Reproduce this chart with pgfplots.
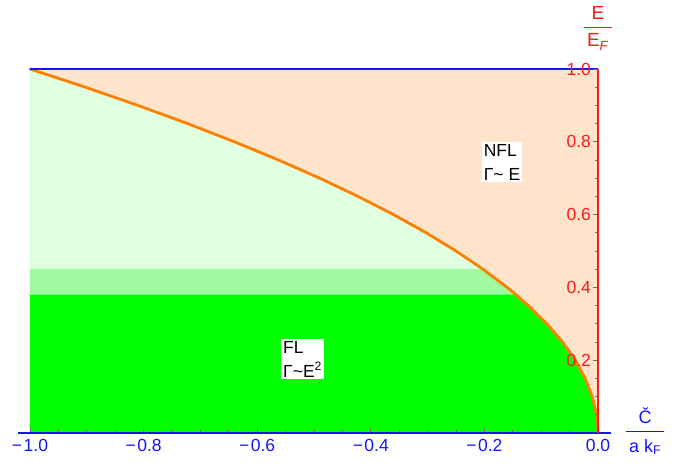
\documentclass[border=0pt]{standalone}
\usepackage{fontspec}
\setmainfont{Liberation Sans}
\usepackage{pgfplots}
\pgfplotsset{compat=1.18}
\definecolor{peach}{RGB}{255,228,204}
\definecolor{lgreen}{RGB}{224,255,224}
\definecolor{mgreen}{RGB}{160,250,160}
\definecolor{bgreen}{RGB}{0,255,0}
\definecolor{curveorange}{RGB}{255,128,0}
\definecolor{axred}{RGB}{255,25,25}
\definecolor{axblue}{RGB}{20,20,255}
\definecolor{tickgray}{RGB}{110,110,110}
\newcommand{\mn}{−\kern1.5pt}
\begin{document}
\begin{tikzpicture}
\begin{axis}[
  scale only axis, width=593pt, height=364pt,
  xmin=-1.021, xmax=0.023, ymin=0, ymax=1,
  axis on top,
  axis lines=middle, axis line style={-},
  x axis line style={axblue, line width=1.3pt},
  y axis line style={axred, line width=1.8pt},
  hide obscured x ticks=false, hide obscured y ticks=false,
  clip=false,
  xtick={-1,-0.8,-0.6,-0.4,-0.2,0},
  xticklabels={\mn1.0,\mn0.8,\mn0.6,\mn0.4,\mn0.2,0.0},
  minor xtick={-0.95,-0.9,-0.85,-0.75,-0.7,-0.65,-0.55,-0.5,-0.45,-0.35,-0.3,-0.25,-0.15,-0.1,-0.05},
  ytick={0.2,0.4,0.6,0.8,1.0},
  yticklabels={0.2,0.4,0.6,0.8,1.0},
  minor ytick={0.05,0.1,0.15,0.25,0.3,0.35,0.45,0.5,0.55,0.65,0.7,0.75,0.85,0.9,0.95},
  xtick align=inside, ytick align=outside,
  major tick length=4.5pt, minor tick length=2.8pt,
  tick style={tickgray, line width=0.9pt},
  xticklabel style={text=axblue, font=\fontsize{17.5}{19}\selectfont, yshift=-3pt},
  yticklabel style={text=axred, font=\fontsize{17.5}{19}\selectfont, xshift=1pt},
]
% light green region under the curve
\addplot[fill=lgreen, draw=none] coordinates {
 (-1,0) (-1,1) (-0.9025,0.95) (-0.81,0.90) (-0.7225,0.85) (-0.64,0.80)
 (-0.5625,0.75) (-0.49,0.70) (-0.4225,0.65) (-0.36,0.60) (-0.3025,0.55)
 (-0.25,0.50) (-0.2025,0.45) (-0.16,0.40) (-0.1444,0.38) (-0.1225,0.35)
 (-0.09,0.30) (-0.0625,0.25) (-0.04,0.20) (-0.0225,0.15) (-0.01,0.10)
 (-0.0025,0.05) (-0.000625,0.025) (0,0)} -- cycle;
% peach region above the curve
\addplot[fill=peach, draw=none] coordinates {
 (-1,1) (-0.9025,0.95) (-0.81,0.90) (-0.7225,0.85) (-0.64,0.80)
 (-0.5625,0.75) (-0.49,0.70) (-0.4225,0.65) (-0.36,0.60) (-0.3025,0.55)
 (-0.25,0.50) (-0.2025,0.45) (-0.16,0.40) (-0.1444,0.38) (-0.1225,0.35)
 (-0.09,0.30) (-0.0625,0.25) (-0.04,0.20) (-0.0225,0.15) (-0.01,0.10)
 (-0.0025,0.05) (-0.000625,0.025) (0,0) (0,1)} -- cycle;
% medium green band
\addplot[fill=mgreen, draw=none] coordinates {
 (-1,0.38) (-1,0.45) (-0.2025,0.45) (-0.16,0.40) (-0.1444,0.38)} -- cycle;
% bright green region
\addplot[fill=bgreen, draw=none] coordinates {
 (-1,0) (-1,0.38) (-0.1444,0.38) (-0.1225,0.35)
 (-0.09,0.30) (-0.0625,0.25) (-0.04,0.20) (-0.0225,0.15) (-0.01,0.10)
 (-0.0025,0.05) (-0.000625,0.025) (0,0)} -- cycle;
% boundary curve
\addplot[curveorange, line width=2.8pt, line cap=round, line join=round] coordinates {
 (-1,1) (-0.9025,0.95) (-0.81,0.90) (-0.7225,0.85) (-0.64,0.80)
 (-0.5625,0.75) (-0.49,0.70) (-0.4225,0.65) (-0.36,0.60) (-0.3025,0.55)
 (-0.25,0.50) (-0.2025,0.45) (-0.16,0.40) (-0.1444,0.38) (-0.1225,0.35)
 (-0.09,0.30) (-0.0625,0.25) (-0.04,0.20) (-0.0225,0.15) (-0.01,0.10)
 (-0.0025,0.05) (-0.000625,0.025) (0,0)};
% top line E = E_F
\addplot[axblue, line width=1.2pt] coordinates {(-1,1) (0,1)};
% region labels
\node[fill=white, inner sep=2pt, align=left, font=\fontsize{17.5}{24}\selectfont]
  at (axis cs:-0.169,0.744) {NFL\\Γ\textasciitilde{} E};
\node[fill=white, inner sep=2pt, align=left, font=\fontsize{17.5}{24}\selectfont]
  at (axis cs:-0.520,0.203) {FL\\Γ\textasciitilde E\textsuperscript{2}};
% axis labels
\node[text=axred, inner sep=0pt, font=\fontsize{19}{21}\selectfont]
  at (axis cs:0.0,1.11) {\setlength\arrayrulewidth{1.3pt}\begin{tabular}{@{\,}c@{\,}}E\\[1pt]\hline\rule{0pt}{19pt}E\textsubscript{\textit{F}}\end{tabular}};
\node[text=axblue, inner sep=0pt, font=\fontsize{18}{20}\selectfont]
  at (axis cs:0.083,0) {\setlength\arrayrulewidth{1.3pt}\begin{tabular}{@{\,}c@{\,}}Č\\[1pt]\hline\rule{0pt}{20pt}a k\textsubscript{F}\end{tabular}};
% bounding box
\path (axis cs:-1.0528,-0.0907) rectangle (axis cs:0.1585,1.1896);
\end{axis}
\end{tikzpicture}
\end{document}
